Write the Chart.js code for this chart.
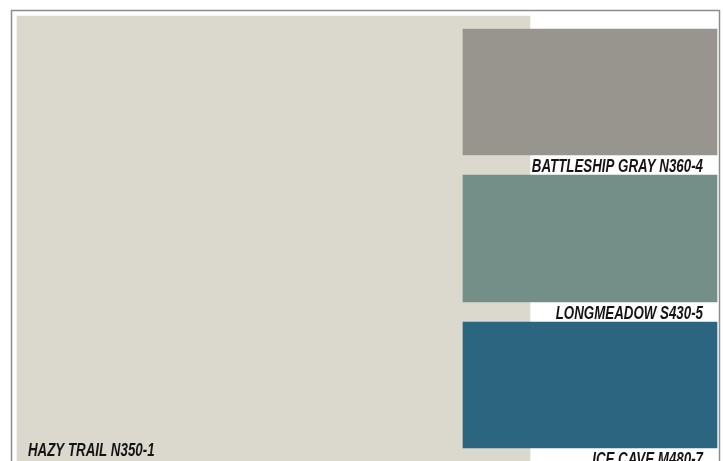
<!DOCTYPE html>
<html>
<head>
<meta charset="utf-8">
<script src="https://cdn.jsdelivr.net/npm/chart.js@4/dist/chart.umd.min.js"></script>
<style>
  html, body { margin: 0; padding: 0; background: #fff; }
  canvas { display: block; }
</style>
</head>
<body>
<canvas id="card" width="723" height="461"></canvas>
<script>
// paint card: one large swatch and three chips, extents in card units
const swatchNames = ['HAZY TRAIL N350-1', 'BATTLESHIP GRAY N360-4', 'LONGMEADOW S430-5', 'ICE CAVE M480-7'];
const swatchColors = ['#dbd9ce', '#97958e', '#748f87', '#2c6580'];
const swatchCenter = [261.5, 578, 578, 578];
const swatchTop = [5, 18, 164, 311];
const swatchBottom = [450, 144, 291, 437];

const SWATCH_WIDTH = [513, 254, 254, 254];
const LABEL_FONT = 'italic bold 18px "Liberation Sans", Arial, sans-serif';
const LABEL_SQUEEZE = 0.74; // condensed look

let frame = {
  id: 'frame',
  beforeDraw(chart) {
    let ctx = chart.ctx;
    let area = chart.chartArea;
    ctx.save();
    ctx.fillStyle = '#ffffff';
    ctx.fillRect(0, 0, chart.width, chart.height);
    ctx.strokeStyle = '#8c8c8c';
    ctx.lineWidth = 1.5;
    ctx.strokeRect(area.left - 0.5, area.top - 0.5, area.right - area.left, area.bottom - area.top + 10);
    ctx.restore();
  }
};

let drawLabel = function(ctx, text, x, y, align) {
  ctx.save();
  ctx.translate(x, y);
  ctx.scale(LABEL_SQUEEZE, 1);
  ctx.textAlign = align;
  ctx.fillText(text, 0, 0);
  ctx.restore();
};

let labels = {
  id: 'labels',
  afterDatasetsDraw(chart) {
    let ctx = chart.ctx;
    ctx.save();
    ctx.font = LABEL_FONT;
    ctx.fillStyle = '#141414';
    ctx.textBaseline = 'alphabetic';
    chart.data.datasets.forEach(function(ds, i) {
      let bar = chart.getDatasetMeta(i).data[0];
      let left = bar.x - bar.width / 2;
      let right = bar.x + bar.width / 2;
      let bottom = Math.max(bar.y, bar.base);
      if (i === 0) drawLabel(ctx, ds.label, left + 11, bottom - 5, 'left');
      else drawLabel(ctx, ds.label, right - 14, bottom + 17, 'right');
    });
    ctx.restore();
  }
};

let datasets = swatchNames.map(function(name, i) {
  return {
    label: name,
    data: [{ x: swatchCenter[i], y: [swatchTop[i], swatchBottom[i]] }],
    backgroundColor: swatchColors[i],
    borderWidth: 0,
    barThickness: SWATCH_WIDTH[i],
    grouped: false,
    order: i === 0 ? 1 : 0
  };
});

new Chart(document.getElementById('card').getContext('2d'), {
  type: 'bar',
  data: { datasets: datasets },
  options: {
    responsive: false,
    animation: false,
    layout: { padding: { left: 12, top: 11, right: 3, bottom: 0 } },
    plugins: { legend: { display: false }, tooltip: { enabled: false } },
    scales: {
      x: { type: 'linear', min: 0, max: 708, offset: false, display: false },
      y: { type: 'linear', min: 0, max: 450, reverse: true, display: false }
    }
  },
  plugins: [frame, labels]
});
</script>
</body>
</html>
